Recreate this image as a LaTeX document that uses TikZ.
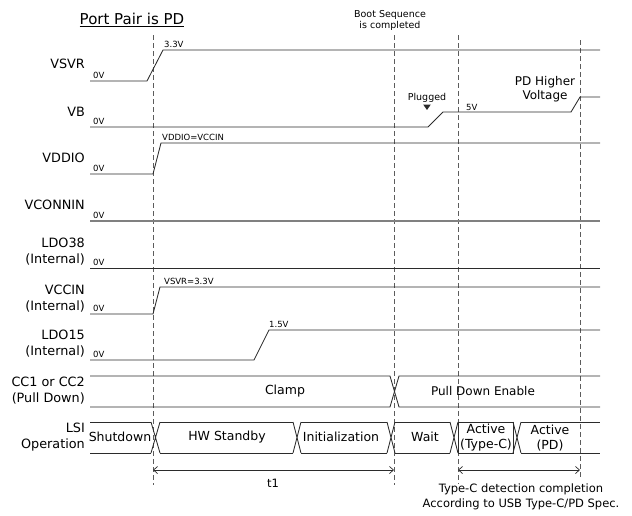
\documentclass[tikz,border=0pt]{standalone}
\usepackage{fontspec}
\setmainfont{DejaVu Sans}
\usetikzlibrary{arrows.meta,positioning,shapes.geometric}
\definecolor{cInk}{HTML}{2B2B2B}
\definecolor{cGrid}{HTML}{5C5C5C}
\definecolor{cDim}{HTML}{808080}
\tikzset{
  sig/.style    ={draw=cInk,line width=0.85pt},
  dimsig/.style ={draw=cDim,line width=1.3pt},
  vline/.style  ={draw=cGrid,line width=0.8pt,dash pattern=on 5pt off 3pt},
  sname/.style  ={font=\fontsize{12.8}{16}\selectfont,anchor=east,align=right,inner sep=0pt},
  lvl/.style    ={font=\fontsize{8.5}{10}\selectfont,anchor=south west,inner sep=1pt},
  note/.style   ={font=\fontsize{9.5}{11}\selectfont,align=center,inner sep=0pt},
  state/.style  ={font=\fontsize{12.5}{15}\selectfont,align=center,inner sep=0pt},
  plugtip/.style={isosceles triangle,isosceles triangle apex angle=70,shape border rotate=-90,
                  fill=cInk,inner sep=1.6pt},
  span/.style   ={{Straight Barb[length=4pt,width=7pt]}-{Straight Barb[length=4pt,width=7pt]},
                  draw=cInk,line width=0.7pt},
}

\begin{document}
\begin{tikzpicture}[x=1pt,y=-1pt]
\useasboundingbox (0,0) rectangle (632,515);

% headings
\node[font=\fontsize{15}{18}\selectfont,inner sep=0pt] (title) at (132,20) {\underline{Port Pair is PD}};
\node[note] (boot) at (390,20) {Boot Sequence\\is completed};

% phase borders
\coordinate (tA) at (153,35);  \coordinate (bA) at (153,485);
\coordinate (tB) at (394,35);  \coordinate (bB) at (394,485);
\coordinate (tC) at (458,35);  \coordinate (bC) at (458,484);
\coordinate (tD) at (580,40);  \coordinate (bD) at (580,479);
\foreach \p in {A,B,C,D}
  \draw[vline] (t\p) -- (b\p);

% signal names
\node[sname] (nVSVR)  at (85,64)    {VSVR};
\node[sname] (nVB)    at (85,112)   {VB};
\node[sname] (nVDDIO) at (85,158)   {VDDIO};
\node[sname] (nVCON)  at (85,204.5) {VCONNIN};
\node[sname] (nLDO38) at (85,251.5) {LDO38\\(Internal)};
\node[sname] (nVCCIN) at (85,298.5) {VCCIN\\(Internal)};
\node[sname] (nLDO15) at (85,344)   {LDO15\\(Internal)};
\node[sname] (nCC)    at (85,391)   {CC1 or CC2\\(Pull Down)};
\node[sname] (nLSI)   at (85,437)   {LSI\\Operation};

% waveforms
\draw[sig] (90,81) -- (147,81) -- (163,50) -- (600,50);
\draw[sig] (90,127) -- (428,127) -- (443,112) -- (571,112) -- (580,97) -- (600,97);
\draw[sig] (90,174) -- (153,174) -- (161,143) -- (600,143);
\draw[dimsig] (90,221) -- (600,221);
\draw[sig] (90,268) -- (600,268);
\draw[sig] (90,314) -- (153,314) -- (160,287) -- (600,287);
\draw[sig] (90,360) -- (254,360) -- (269,330) -- (600,330);

% zero levels
\foreach \y in {80,126,173,220,267,313,359}
  \node[lvl] at (92,\y) {0V};

% level notes
\node[lvl] (l33)   at (163,49)  {3.3V};
\node[lvl] (lvdd)  at (161,142) {VDDIO=VCCIN};
\node[lvl] (lvcc)  at (163,286) {VSVR=3.3V};
\node[lvl] (l15)   at (268,329) {1.5V};
\node[lvl] (l5)    at (465,112) {5V};
\node[note] (plug) at (427,98)  {Plugged};
\node[plugtip,below=1.5pt of plug] (plugm) {};
\node[font=\fontsize{12}{14}\selectfont,align=center,inner sep=0pt] (pdv) at (545,89) {PD Higher\\Voltage};

% CC bus
\draw[sig] (90,376) -- (390,376) -- (399,407) -- (600,407);
\draw[sig] (90,407) -- (390,407) -- (399,376) -- (600,376);
\node[state] (sClamp) at (285,391) {Clamp};
\node[state,font=\fontsize{12}{15}\selectfont] (sPull) at (483,391) {Pull Down Enable};

% LSI bus
\foreach \a/\b in {151/160,293/301,387/395,450/458,513/521}
  \draw[sig] (\a,422) -- (\b,453) (\a,453) -- (\b,422);
\foreach \a/\b in {90/151,160/293,301/387,395/450,458/513,521/600}
  \draw[sig] (\a,422) -- (\b,422) (\a,453) -- (\b,453);
\draw[sig] (458,422) rectangle (513,453);
\node[state] (sShut) at (120,437) {Shutdown};
\node[state] (sHW)   at (227,437) {HW Standby};
\node[state] (sInit) at (341,437) {Initialization};
\node[state] (sWait) at (425,437) {Wait};
\node[state] (sTC)   at (486,438) {Active\\(Type-C)};
\node[state] (sPD)   at (550,438) {Active\\(PD)};

% spans
\coordinate (t1l) at (153,470); \coordinate (t1r) at (394,470);
\coordinate (t2l) at (458,470); \coordinate (t2r) at (580,470);
\draw[span] (t1l) -- (t1r);
\draw[span] (t2l) -- (t2r);
\node[state,font=\fontsize{11.5}{14}\selectfont] (lt1) at (273,483) {t1};
\node[state,font=\fontsize{11.5}{14.5}\selectfont] (lt2) at (521,497)
  {Type-C detection completion\\According to USB Type-C/PD Spec.};
\end{tikzpicture}
\end{document}
